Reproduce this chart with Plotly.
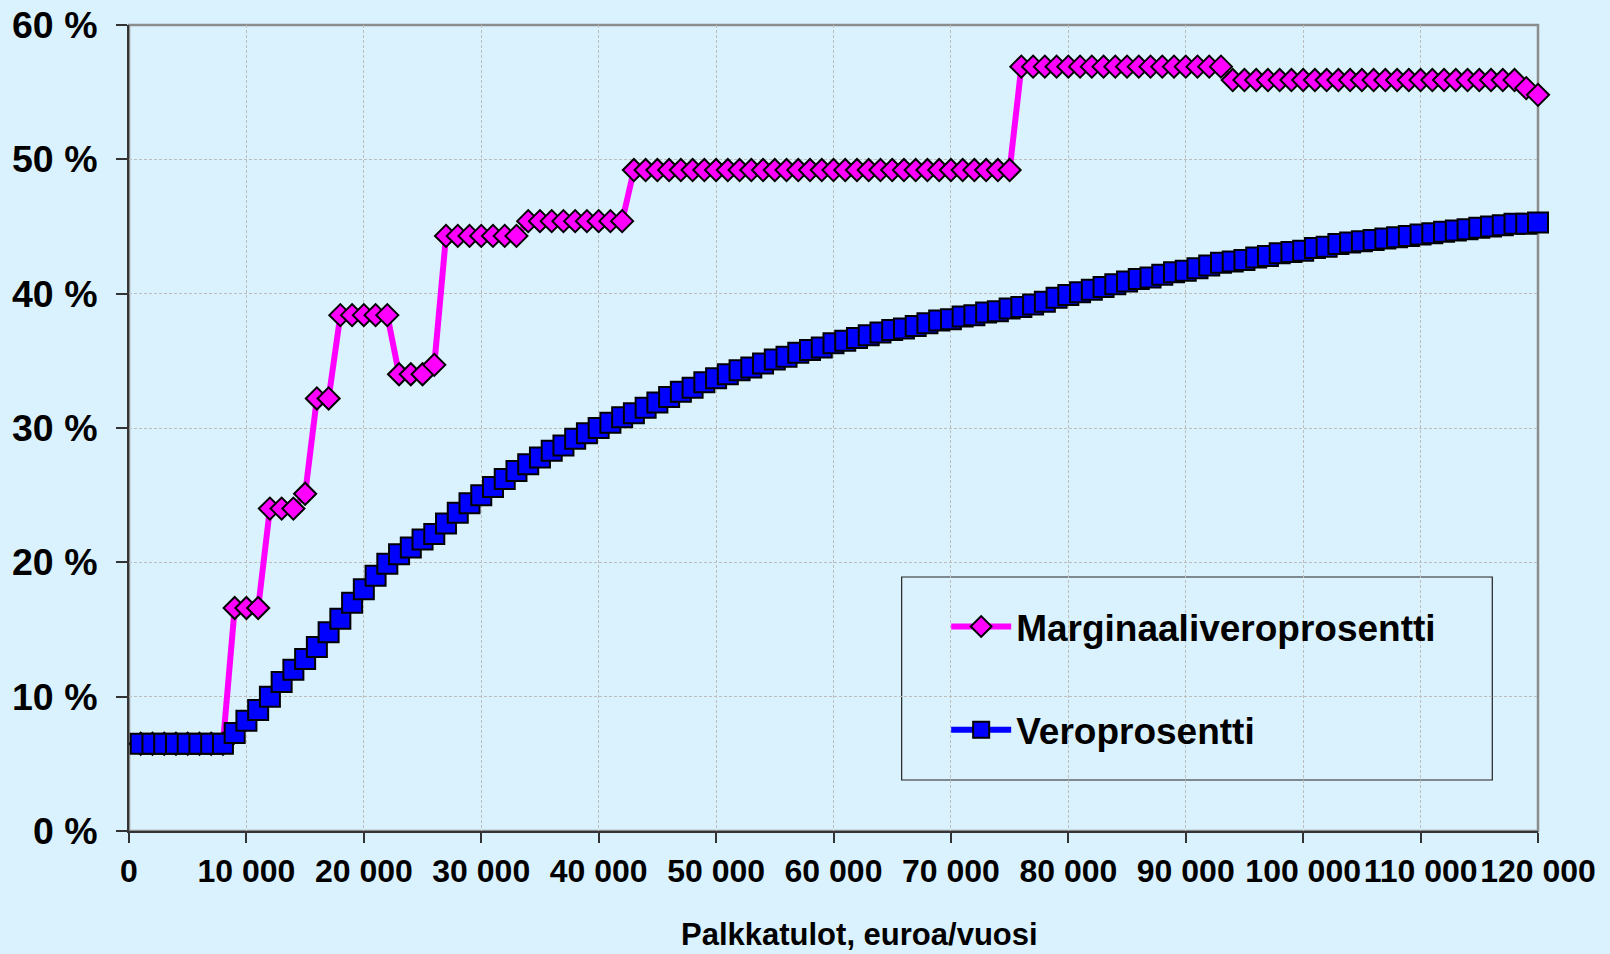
import plotly.graph_objects as go

# ---- data -------------------------------------------------------------
income = list(range(1000, 121000, 1000))

marginal = (
    [6.5] * 8            # 1 000 - 8 000
    + [16.6] * 3         # 9 000 - 11 000
    + [24.0] * 3         # 12 000 - 14 000
    + [25.1]             # 15 000
    + [32.2] * 2         # 16 000 - 17 000
    + [38.4] * 5         # 18 000 - 22 000
    + [34.0] * 3         # 23 000 - 25 000
    + [34.7]             # 26 000
    + [44.3] * 7         # 27 000 - 33 000
    + [45.4] * 9         # 34 000 - 42 000
    + [49.2] * 33        # 43 000 - 75 000
    + [56.9] * 18        # 76 000 - 93 000
    + [55.9] * 25        # 94 000 - 118 000
    + [55.3, 54.8]       # 119 000 - 120 000
)

average = [
    6.5, 6.5, 6.5, 6.5, 6.5, 6.5, 6.5, 6.5, 7.3, 8.2,
    9.0, 10.0, 11.1, 12.0, 12.8, 13.7, 14.8, 15.8, 17.0, 18.0,
    19.0, 19.9, 20.6, 21.1, 21.7, 22.1, 22.9, 23.7, 24.4, 25.0,
    25.6, 26.2, 26.8, 27.3, 27.8, 28.3, 28.7, 29.2, 29.6, 30.0,
    30.4, 30.8, 31.1, 31.5, 31.9, 32.3, 32.7, 33.0, 33.4, 33.7,
    34.0, 34.3, 34.5, 34.8, 35.1, 35.3, 35.6, 35.8, 36.0, 36.3,
    36.5, 36.7, 36.9, 37.1, 37.3, 37.4, 37.6, 37.8, 38.0, 38.1,
    38.3, 38.4, 38.6, 38.7, 38.9, 39.0, 39.2, 39.4, 39.7, 39.9,
    40.1, 40.3, 40.5, 40.7, 40.9, 41.1, 41.2, 41.4, 41.6, 41.7,
    41.9, 42.1, 42.3, 42.4, 42.5, 42.7, 42.8, 43.0, 43.1, 43.2,
    43.4, 43.5, 43.7, 43.8, 43.9, 44.0, 44.1, 44.2, 44.3, 44.4,
    44.5, 44.6, 44.7, 44.8, 44.9, 45.0, 45.1, 45.2, 45.2, 45.3,
]

x_tick_vals = [0, 10000, 20000, 30000, 40000, 50000, 60000, 70000,
               80000, 90000, 100000, 110000, 120000]
x_tick_text = ["0", "10 000", "20 000", "30 000", "40 000", "50 000", "60 000",
               "70 000", "80 000", "90 000", "100 000", "110 000", "120 000"]
y_tick_vals = [0, 10, 20, 30, 40, 50, 60]
y_tick_text = ["0 %", "10 %", "20 %", "30 %", "40 %", "50 %", "60 %"]

series_names = ["Marginaaliveroprosentti", "Veroprosentti"]
x_title = "Palkkatulot, euroa/vuosi"

# ---- styling -------------------------------------------------------------
BG = "#DAF2FE"
FONT = "Liberation Sans, Arial, sans-serif"
W, H = 1610, 954
L, R, T, B = 129, 1537.7, 25, 831

def px_x(p):
    return (p - L) / (R - L)

def px_y(p):
    return (B - p) / (B - T)

fig = go.Figure()
fig.add_trace(go.Scatter(
    x=income, y=marginal, name=series_names[0], mode="lines+markers",
    line=dict(color="#FF00FF", width=6),
    marker=dict(symbol="diamond", size=17, color="#FF00FF",
                line=dict(color="black", width=2)),
    cliponaxis=False, legendgroup="a",
))
fig.add_trace(go.Scatter(
    x=income, y=average, name=series_names[1], mode="lines+markers",
    line=dict(color="#0000FF", width=6),
    marker=dict(symbol="square", size=20, color="#0000FF",
                line=dict(color="black", width=2)),
    cliponaxis=False, legendgroup="b",
))

fig.update_layout(
    template="none",
    width=W, height=H, autosize=False,
    paper_bgcolor=BG, plot_bgcolor=BG,
    margin=dict(l=L, r=W - R, t=T, b=H - B, pad=0, autoexpand=False),
    font=dict(family=FONT, color="black", weight="bold"),
    showlegend=True,
    legend=dict(
        x=px_x(946), y=px_y(596), xanchor="left", yanchor="top",
        bgcolor="rgba(0,0,0,0)", borderwidth=0,
        font=dict(family=FONT, size=37, color="black", weight="bold"),
        tracegroupgap=52, itemwidth=60,
    ),
    xaxis=dict(
        range=[0, 120000], tickvals=x_tick_vals, ticktext=x_tick_text,
        tickfont=dict(family=FONT, size=32, color="black", weight="bold"),
        ticks="outside", ticklen=10, tickwidth=1.5, tickcolor="#333333",
        showline=True, linecolor="#333333", linewidth=2,
        showgrid=True, gridcolor="#BDBDBD", gridwidth=1, griddash="3px,2px",
        zeroline=False, ticklabelstandoff=1, automargin=False,
    ),
    yaxis=dict(
        range=[0, 60], tickvals=y_tick_vals, ticktext=y_tick_text,
        tickfont=dict(family=FONT, size=37.5, color="black", weight="bold"),
        ticks="outside", ticklen=11, tickwidth=1.5, tickcolor="#333333",
        showline=True, linecolor="#333333", linewidth=2,
        showgrid=True, gridcolor="#BDBDBD", gridwidth=1, griddash="3px,2px",
        zeroline=False, ticklabelstandoff=11, automargin=False,
    ),
    shapes=[
        dict(type="rect", xref="paper", yref="paper", x0=0, x1=1, y0=0, y1=1,
             line=dict(color="#8C8C8C", width=2.5), layer="between"),
        dict(type="rect", xref="paper", yref="paper",
             x0=px_x(901.5), x1=px_x(1492), y0=px_y(780), y1=px_y(577),
             line=dict(color="#222222", width=1.2), layer="between"),
    ],
    annotations=[
        dict(text=x_title, xref="paper", yref="paper", x=px_x(859.5), y=px_y(934),
             xanchor="center", yanchor="middle", showarrow=False,
             font=dict(family=FONT, size=31, color="black", weight="bold")),
    ],
)

fig.write_html(
    "out.html",
    config={"displayModeBar": False},
    post_script="document.body.style.margin='0';document.body.style.overflow='hidden';",
)
